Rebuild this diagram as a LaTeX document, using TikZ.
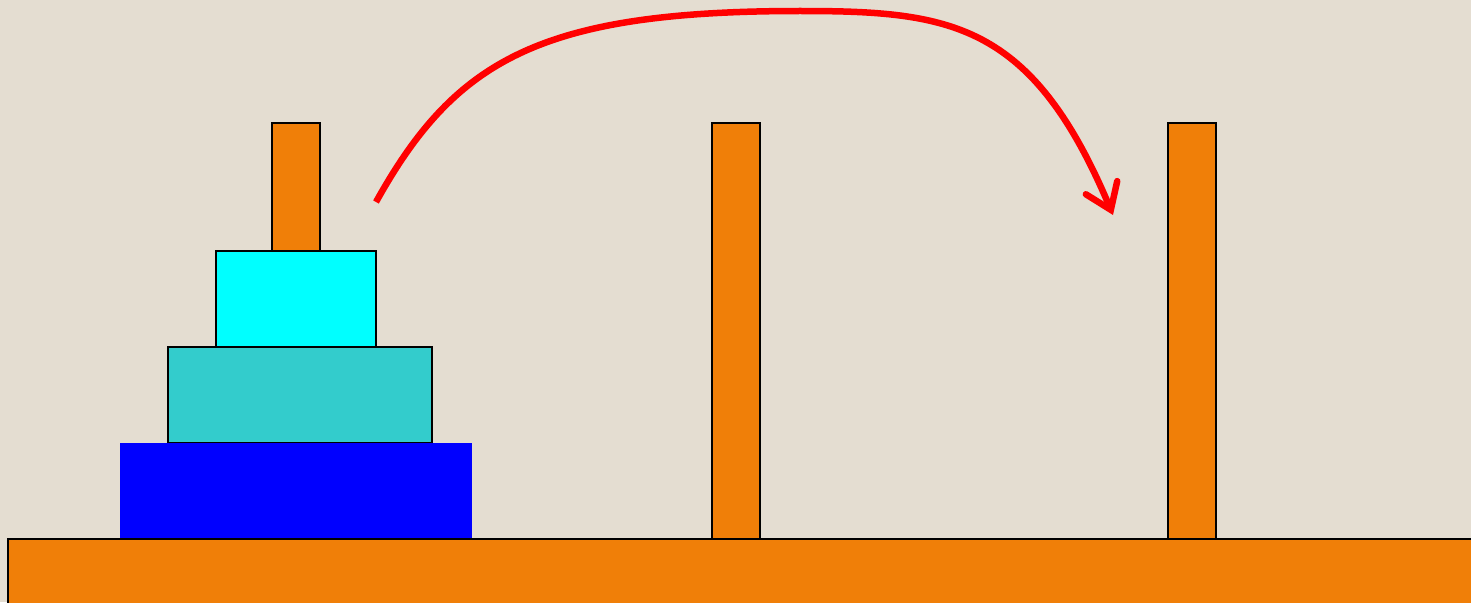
\documentclass[tikz,border=0pt]{standalone}
\usetikzlibrary{arrows.meta}
\definecolor{bg}{RGB}{228,221,209}
\definecolor{peg}{RGB}{240,127,8}
\definecolor{diskA}{RGB}{0,255,255}
\definecolor{diskB}{RGB}{51,204,204}
\definecolor{diskC}{RGB}{0,0,255}
\tikzset{
  part/.style={rectangle, inner sep=0pt, outer sep=0pt, draw=black, line width=2pt, anchor=north west},
  pegbox/.style={part, fill=peg, minimum width=48pt},
  movearrow/.style={draw=red, line width=6.5pt, -{Straight Barb[length=24pt,width=34pt,line cap=round]}}
}
\begin{document}
\begin{tikzpicture}[x=1pt,y=-1pt]
\fill[bg] (0,0) rectangle (1471,602);
\useasboundingbox (0,0) rectangle (1471,602);
\begin{scope}
\clip (0,0) rectangle (1471,602);
\node[pegbox, minimum height=416pt] (p1) at (272,123) {};
\node[pegbox, minimum height=416pt] (p2) at (712,123) {};
\node[pegbox, minimum height=416pt] (p3) at (1168,123) {};
\node[part, fill=diskA, minimum width=160pt, minimum height=96pt] (d1) at (216,251) {};
\node[part, fill=diskB, minimum width=264pt, minimum height=96pt] (d2) at (168,347) {};
\node[part, draw=none, fill=diskC, minimum width=352pt, minimum height=96pt] (d3) at (120,443) {};
\node[part, fill=peg, minimum width=1480pt, minimum height=80pt] (base) at (8,539) {};
\coordinate (arrS) at (376,202);
\coordinate (arrM) at (800,11);
\coordinate (arrE) at (1113,215);
\draw[movearrow] (arrS) .. controls (455,60) and (540,11) .. (arrM)
  .. controls (950,11) and (1032,22) .. (arrE);
\end{scope}
\end{tikzpicture}
\end{document}
